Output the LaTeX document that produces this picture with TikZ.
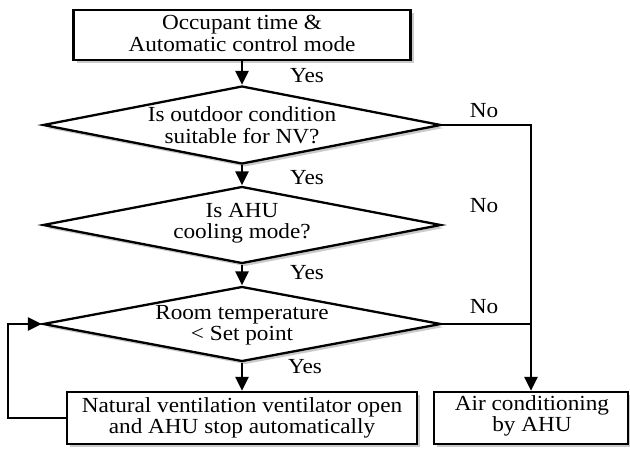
\documentclass[tikz,border=0pt]{standalone}
\usepackage{fontspec}
\setmainfont{Liberation Serif}[FakeStretch=1.08]
\usetikzlibrary{shapes.geometric,arrows.meta,shadows}
\begin{document}
\begin{tikzpicture}[x=1pt,y=-1pt,
  font=\fontsize{21.5}{21.5}\selectfont,
  shad/.style={drop shadow={shadow xshift=3pt,shadow yshift=-3pt,fill=black!35,opacity=0.6}},
  procbox/.style={draw,line width=2.3pt,fill=white,shad,align=center,inner sep=0pt},
  dia/.style={draw,shape=diamond,line width=2.3pt,fill=white,shad,inner sep=0pt,minimum width=398pt},
  txt/.style={align=center,inner sep=0pt},
  lbl/.style={inner sep=0pt},
  arr/.style={line width=2.3pt,-{Triangle[length=14pt,width=13pt]}},
  ln/.style={line width=2.3pt}]
\useasboundingbox (0,0) rectangle (630,448);
% boxes
\node[procbox,minimum width=337pt,minimum height=50pt] (b1) at (242,35) {};
\node[txt] (tb1) at (242,33.5) {Occupant time \&\\Automatic control mode};
\node[dia,minimum height=78pt] (d1) at (242,125) {};
\node[txt] (t1) at (d1.center) {Is outdoor condition\\suitable for NV?};
\node[dia,minimum height=77pt] (d2) at (242,225) {};
\node[txt] (t2) at (242,223) {Is AHU\\cooling mode?};
\node[dia,minimum height=75pt] (d3) at (242,324) {};
\node[txt] (t3) at (242,325) {Room temperature\\< Set point};
\node[procbox,minimum width=350pt,minimum height=52pt] (nv) at (242,418) {};
\node[txt] (tnv) at (242,418) {Natural ventilation ventilator open\\and AHU stop automatically};
\node[procbox,minimum width=194pt,minimum height=52pt] (ac) at (531,418) {};
\node[txt] (tac) at (532,416) {Air conditioning\\by AHU};
% labels
\node[lbl] (y1) at (307,76) {Yes};
\node[lbl] (y2) at (307,178) {Yes};
\node[lbl] (y3) at (307,273) {Yes};
\node[lbl] (y4) at (305,367) {Yes};
\node[lbl] (n1) at (484,111) {No};
\node[lbl] (n2) at (484,206) {No};
\node[lbl] (n3) at (484,307) {No};
% connectors
\draw[arr] (b1.south) -- (d1.north);
\draw[arr] (d1.south) -- (d2.north);
\draw[arr] (d2.south) -- (d3.north);
\draw[arr] (d3.south) -- (nv.north);
\draw[arr] (d1.east) -| (ac.north);
\coordinate (j3) at (d3.east -| ac.north);
\draw[ln] (d3.east) -- (j3);
\coordinate (lp) at (8,418);
\draw[arr] (nv.west) -- (lp) |- (d3.west);
\end{tikzpicture}
\end{document}
